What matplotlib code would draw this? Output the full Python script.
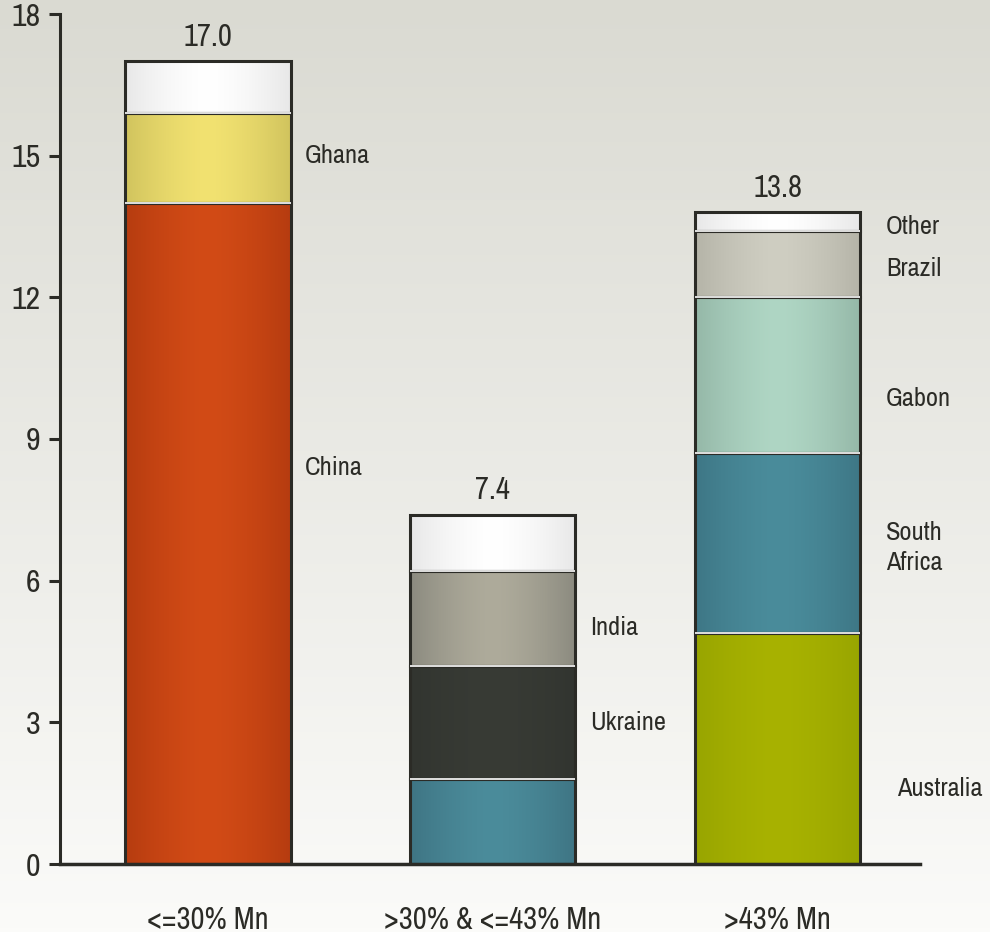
import numpy as np
import matplotlib
matplotlib.use("Agg")
import matplotlib.pyplot as plt

#narrow font like the original, regular sans as backup
plt.rcParams['font.family'] = ['Archivo Narrow', 'Liberation Sans', 'DejaVu Sans']

#data
categories = ["<=30% Mn", ">30% & <=43% Mn", ">43% Mn"]
totals = [17.0, 7.4, 13.8]
#segments per bar, bottom to top
seg_names = [
    ["China", "Ghana", ""],
    ["", "Ukraine", "India", ""],
    ["Australia", "South\nAfrica", "Gabon", "Brazil", "Other"],
]
seg_values = [
    [14.0, 1.9, 1.1],
    [1.8, 2.4, 2.0, 1.2],
    [4.9, 3.8, 3.3, 1.4, 0.4],
]
#label nudges from segment middle (data units) and from bar edge (x units)
label_dy = [
    [1.4, 0.05, 0],
    [0, 0.0, -0.2, 0],
    [-0.85, -0.1, -0.5, -0.1, -0.1],
]
label_dx = [
    [0.05, 0.05, 0],
    [0, 0.05, 0.05, 0],
    [0.13, 0.09, 0.09, 0.09, 0.09],
]
#edge / middle colours of each segment
seg_colors = [
    [("#b63c10", "#d24b16"), ("#d1c45e", "#f2e271"), ("#e8e8e8", "#ffffff")],
    [("#3f7584", "#4b8c9b"), ("#323530", "#383b35"), ("#8c8b80", "#aeab9b"), ("#e8e8e8", "#ffffff")],
    [("#98a500", "#a8b200"), ("#3e7786", "#4a8c9b"), ("#95b8a8", "#afd6c4"), ("#b5b4a8", "#cfcec2"), ("#e8e8e8", "#ffffff")],
]

fig = plt.figure(figsize=(9.9, 9.32), dpi=100)

#background gradient
bg = fig.add_axes([0, 0, 1, 1], zorder=-10)
grad = np.linspace(0, 1, 256).reshape(-1, 1)
top = np.array([218, 218, 210]) / 255
bot = np.array([251, 251, 249]) / 255
img = top + (bot - top) * grad[:, :, None]
bg.imshow(img, aspect='auto', extent=[0, 1, 0, 1])
bg.axis('off')

ax = fig.add_axes([60/990, 68/932, 860/990, 850/932])
ax.set_facecolor('none')

width = 0.58
ink = "#2b2b26"
xs = np.arange(len(categories))


def hgrad(c_edge, c_mid):
    e = np.array(matplotlib.colors.to_rgb(c_edge))
    m = np.array(matplotlib.colors.to_rgb(c_mid))
    t = np.linspace(-1, 1, 64)
    w = 1 - np.abs(t) ** 1.5
    return (e + (m - e) * w[:, None])[None, :, :]


for i, x in enumerate(xs):
    bottom = 0
    for j, v in enumerate(seg_values[i]):
        bars = ax.bar(x, v, width, bottom=bottom, color='none',
                      edgecolor=ink, linewidth=2.2, zorder=3)
        patch = bars[0]
        ce, cm = seg_colors[i][j]
        im = ax.imshow(hgrad(ce, cm), aspect='auto', zorder=2,
                       extent=[x - width/2, x + width/2, bottom, bottom + v])
        im.set_clip_path(patch)
        #thin light gap between stacked pieces
        if j > 0:
            ax.hlines(bottom, x - width/2, x + width/2, color='white',
                      linewidth=1.2, zorder=4)
        name = seg_names[i][j]
        if name:
            ax.text(x + width/2 + label_dx[i][j], bottom + v/2 + label_dy[i][j],
                    name, fontsize=19, color=ink, va='center', ha='left',
                    linespacing=1.4)
        bottom += v
    ax.text(x, totals[i] + 0.22, f"{totals[i]:.1f}", ha='center', va='bottom',
            fontsize=22, color=ink)

ax.set_xlim(-0.52, 2.5)
ax.set_ylim(0, 18)

ax.set_yticks([0, 3, 6, 9, 12, 15, 18])
ax.set_xticks(xs)
ax.set_xticklabels(categories, fontsize=22, color=ink)
ax.tick_params(axis='x', length=0, pad=30)
ax.tick_params(axis='y', length=8, width=2.2, color=ink, labelsize=23,
               labelcolor=ink, pad=6)
for s in ['top', 'right']:
    ax.spines[s].set_visible(False)
ax.spines['left'].set_linewidth(2.2)
ax.spines['left'].set_color(ink)
ax.spines['bottom'].set_linewidth(2.5)
ax.spines['bottom'].set_color(ink)
ax.spines['bottom'].set_zorder(5)

fig.savefig("out.png", dpi=100)
